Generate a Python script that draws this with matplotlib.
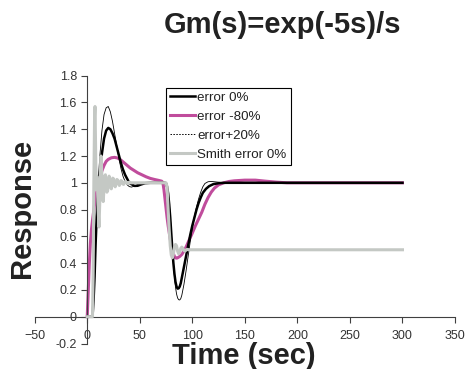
import matplotlib
matplotlib.use("Agg")
import matplotlib.pyplot as plt
from matplotlib.lines import Line2D

plt.rcParams['font.family'] = ['Liberation Sans', 'DejaVu Sans']

# closed loop response, nominal model (error 0%)
t_nom = [0, 5, 6, 7, 8, 9, 10, 12, 14, 16, 18, 20, 22, 24, 26, 28, 30, 32, 34, 36, 38,
         40, 42, 45, 48, 51, 55, 60, 74, 75, 76, 77, 78, 79, 80, 81, 82, 83, 84, 85, 86,
         87, 88, 89, 90, 92, 94, 96, 98, 100, 102, 104, 106, 108, 110, 113, 116, 120,
         125, 130, 300]
y_nom = [0, 0, 0.12, 0.3, 0.55, 0.75, 0.88, 1.07, 1.22, 1.33, 1.39, 1.41, 1.40, 1.37,
         1.33, 1.27, 1.21, 1.15, 1.10, 1.06, 1.03, 1.0, 0.99, 0.977, 0.978, 0.987, 0.997,
         1.0, 1.0, 0.995, 0.97, 0.92, 0.84, 0.74, 0.62, 0.5, 0.4, 0.32, 0.26, 0.225, 0.21,
         0.212, 0.225, 0.25, 0.29, 0.37, 0.45, 0.53, 0.61, 0.68, 0.74, 0.8, 0.85, 0.89,
         0.925, 0.955, 0.975, 0.99, 0.997, 1.0, 1.0]

# delay error -80%
t_m80 = [0, 1, 2, 3, 4, 5, 6, 7, 8, 10, 12, 14, 16, 18, 20, 23, 26, 29, 32, 35, 38, 41,
         44, 48, 52, 56, 60, 64, 68, 71, 72, 73, 74, 75, 76, 77, 78, 79, 80, 81, 82, 83,
         84, 85, 86, 88, 90, 92, 94, 96, 98, 100, 103, 106, 109, 112, 115, 118, 121, 125,
         130, 135, 140, 150, 160, 170, 180, 190, 300]
y_m80 = [0, 0.2, 0.4, 0.55, 0.65, 0.72, 0.78, 0.84, 0.89, 0.97, 1.04, 1.09, 1.13, 1.16,
         1.175, 1.187, 1.19, 1.185, 1.17, 1.15, 1.13, 1.11, 1.095, 1.075, 1.06, 1.045,
         1.033, 1.025, 1.018, 1.012, 1.0, 0.95, 0.88, 0.81, 0.74, 0.68, 0.63, 0.58, 0.54,
         0.5, 0.47, 0.45, 0.44, 0.437, 0.44, 0.45, 0.465, 0.49, 0.52, 0.555, 0.59, 0.625,
         0.68, 0.73, 0.78, 0.84, 0.89, 0.93, 0.96, 0.985, 1.0, 1.01, 1.015, 1.02, 1.02,
         1.012, 1.005, 1.0, 1.0]

# delay error +20%
t_p20 = [0, 5, 6, 7, 8, 9, 10, 11, 12, 14, 16, 18, 20, 22, 24, 26, 28, 30, 32, 34, 36,
         38, 40, 42, 45, 48, 52, 58, 75, 76, 77, 78, 79, 80, 81, 82, 83, 84, 85, 86, 87,
         88, 89, 90, 92, 94, 96, 98, 100, 102, 104, 106, 108, 110, 112, 115, 118, 122,
         128, 135, 300]
y_p20 = [0, 0, 0.12, 0.32, 0.55, 0.76, 0.94, 1.08, 1.2, 1.39, 1.51, 1.56, 1.57, 1.53,
         1.46, 1.37, 1.28, 1.19, 1.11, 1.05, 1.01, 0.985, 0.972, 0.968, 0.975, 0.988,
         0.998, 1.0, 1.0, 0.98, 0.93, 0.85, 0.75, 0.63, 0.51, 0.4, 0.3, 0.22, 0.17, 0.14,
         0.127, 0.125, 0.135, 0.16, 0.24, 0.34, 0.45, 0.56, 0.66, 0.75, 0.82, 0.88, 0.93,
         0.97, 0.995, 1.008, 1.01, 1.007, 1.002, 1.0, 1.0]

# Smith predictor, error 0%
t_smith = [0, 5, 5.6, 6.3, 7.0, 7.4, 7.9, 8.5, 9.1, 9.7, 10.4, 11.2, 11.9, 12.6, 13.2,
           13.8, 14.5, 15.2, 15.9, 16.6, 17.3, 18, 18.7, 19.4, 20.1, 20.8, 21.5, 22.2,
           22.9, 23.6, 24.3, 25, 25.8, 26.6, 27.4, 28.2, 29, 29.8, 30.6, 31.4, 32.2, 33,
           33.8, 34.6, 35.4, 36.2, 37, 37.8, 38.6, 39.4, 40.2, 41, 75, 76, 77, 78, 79, 80,
           81, 82, 83, 84, 85, 86, 87, 88, 89, 90, 91, 92, 93, 94, 95, 97, 300]
y_smith = [0, 0, 0.3, 1.0, 1.5, 1.57, 1.3, 0.95, 1.05, 1.0, 0.8, 0.67, 0.85, 1.1, 1.2,
           1.08, 0.9, 0.86, 0.95, 1.05, 1.06, 1.0, 0.93, 0.94, 1.01, 1.05, 1.03, 0.97,
           0.955, 0.99, 1.035, 1.03, 0.985, 0.97, 0.995, 1.025, 1.02, 0.99, 0.98, 1.0,
           1.017, 1.012, 0.992, 0.988, 1.002, 1.01, 1.006, 0.996, 0.994, 1.002, 1.005, 1.0,
           1.0, 0.97, 0.8, 0.65, 0.53, 0.46, 0.44, 0.47, 0.52, 0.54, 0.53, 0.49, 0.47, 0.48,
           0.51, 0.52, 0.51, 0.495, 0.49, 0.497, 0.503, 0.5, 0.5]

labels = ["error 0%", "error -80%", "error+20%", "Smith error 0%"]
magenta = "#c04c9c"
grey = "#c4c8c4"
ink = "#222222"

fig = plt.figure(figsize=(4.67, 3.69), dpi=100)
ax = fig.add_axes([0.0743, 0.0691, 0.9, 0.7258])

ax.plot(t_m80, y_m80, color=magenta, lw=2.2, zorder=2)
ax.plot(t_nom, y_nom, color="black", lw=1.8, zorder=3)
ax.plot(t_p20, y_p20, color="black", lw=0.6, zorder=4)
ax.plot(t_smith, y_smith, color=grey, lw=2.2, zorder=5)

ax.set_xlim(-50, 350)
ax.set_ylim(-0.2, 1.8)
ax.set_xticks([-50, 0, 50, 100, 150, 200, 250, 300, 350])
ax.set_yticks([-0.2, 0, 0.2, 0.4, 0.6, 0.8, 1, 1.2, 1.4, 1.6, 1.8])
ax.set_yticklabels(["-0.2", "0", "0.2", "0.4", "0.6", "0.8", "1", "1.2", "1.4", "1.6", "1.8"])

# axes cross at the origin
ax.spines['left'].set_position(('data', 0))
ax.spines['bottom'].set_position(('data', 0))
ax.spines['top'].set_visible(False)
ax.spines['right'].set_visible(False)
for s in ('left', 'bottom'):
    ax.spines[s].set_color('#404040')
    ax.spines[s].set_linewidth(0.8)
ax.tick_params(direction='out', length=4, width=0.8, color='#404040',
               labelsize=9, labelcolor='#333333')
ax.tick_params(axis='y', pad=3.5)
ax.tick_params(axis='x', pad=5.5)
ax.patch.set_visible(False)

handles = [Line2D([], [], color="black", lw=1.8),
           Line2D([], [], color=magenta, lw=2.2),
           Line2D([], [], color="black", lw=0.7, ls=(0, (1.5, 1.5))),
           Line2D([], [], color=grey, lw=2.2)]
leg = fig.legend(handles, labels, loc='upper left', bbox_to_anchor=(0.3555, 0.762),
                 fontsize=9.6, frameon=True, fancybox=False, framealpha=1,
                 edgecolor='black', handlelength=1.9, handletextpad=0.15,
                 labelspacing=0.5, borderpad=0.3, borderaxespad=0)
leg.get_frame().set_linewidth(0.8)
for txt in leg.get_texts():
    txt.set_color('#222222')

fig.text(0.604, 0.932, "Gm(s)=exp(-5s)/s", ha='center', va='center',
         fontsize=21, fontweight='bold', color=ink)
fig.text(0.047, 0.434, "Response", ha='center', va='center', rotation=90,
         fontsize=21, fontweight='bold', color=ink)
fig.text(0.523, 0.034, "Time (sec)", ha='center', va='center',
         fontsize=21, fontweight='bold', color=ink)

fig.savefig("out.png", dpi=100)
